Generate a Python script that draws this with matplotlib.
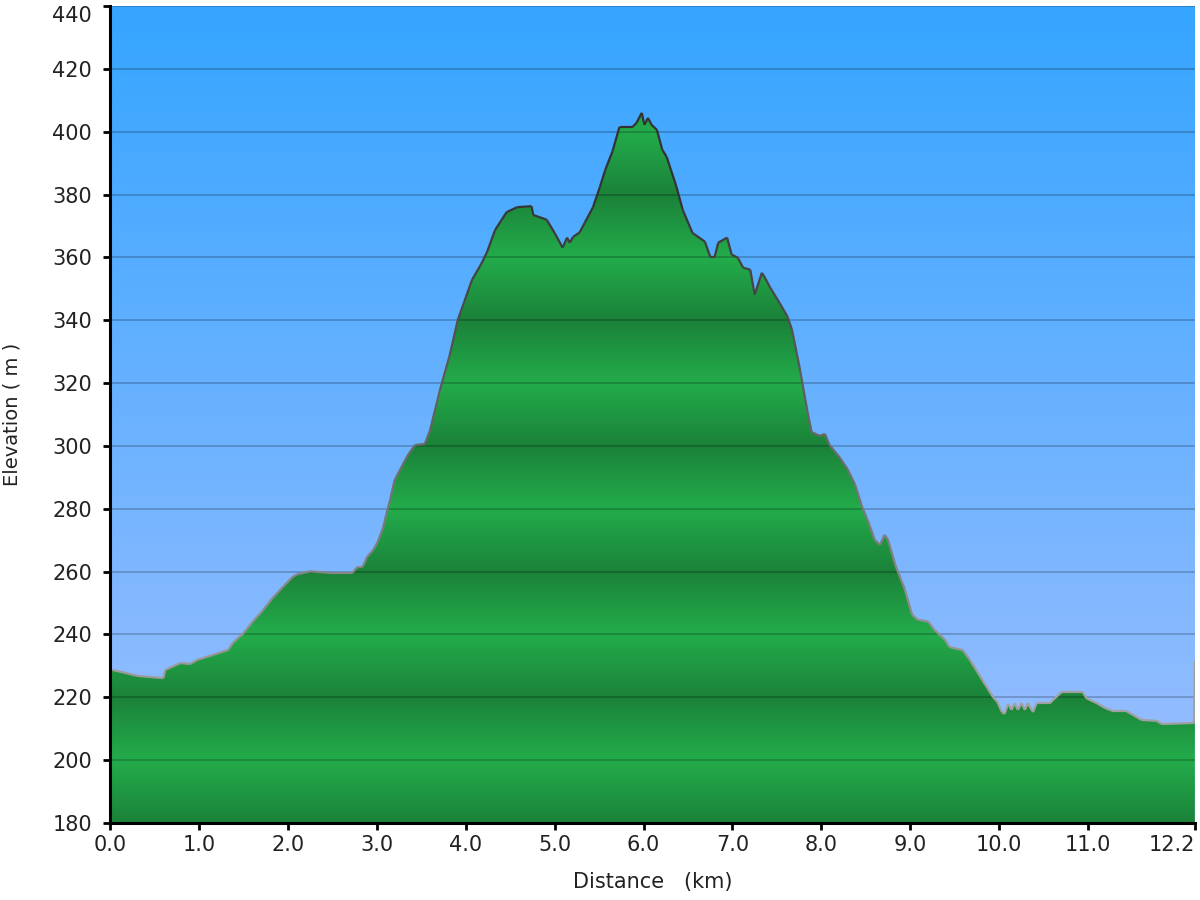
import numpy as np
import matplotlib.pyplot as plt
from matplotlib.collections import LineCollection
from matplotlib.colors import LinearSegmentedColormap

# elevation profile (distance in km, elevation in m)
distance_km = [
    0.00, 0.005, 0.03, 0.31, 0.60, 0.62, 0.79, 0.90, 0.98, 1.16, 1.33, 1.38,
    1.50, 1.60, 1.72, 1.82, 1.93, 2.05, 2.10, 2.25, 2.51, 2.72, 2.78, 2.84,
    2.89, 2.96, 3.01, 3.07, 3.11, 3.15, 3.20, 3.26, 3.35, 3.43, 3.54, 3.60,
    3.71, 3.82, 3.91, 3.99, 4.07, 4.18, 4.24, 4.33, 4.46, 4.58, 4.74, 4.76,
    4.91, 5.00, 5.09, 5.14, 5.17, 5.21, 5.28, 5.34, 5.43, 5.51, 5.57, 5.65,
    5.73, 5.88, 5.92, 5.98, 6.01, 6.05, 6.09, 6.15, 6.21, 6.26, 6.37, 6.44,
    6.55, 6.69, 6.75, 6.80, 6.84, 6.94, 6.99, 7.06, 7.12, 7.20, 7.25, 7.33,
    7.36, 7.42, 7.53, 7.62, 7.67, 7.76, 7.84, 7.89, 7.98, 8.04, 8.09, 8.21,
    8.30, 8.38, 8.45, 8.54, 8.60, 8.66, 8.71, 8.75, 8.83, 8.94, 9.02, 9.08,
    9.20, 9.27, 9.39, 9.44, 9.59, 9.67, 9.81, 9.93, 9.98, 10.03, 10.06, 10.10,
    10.14, 10.17, 10.21, 10.25, 10.29, 10.32, 10.38, 10.42, 10.57, 10.60, 10.70,
    10.94, 10.98, 11.10, 11.19, 11.28, 11.43, 11.60, 11.77, 11.83, 12.16, 12.19,
    12.20,
]
elevation_m = [
    223.0, 228.5, 228.7, 226.8, 226.1, 228.7, 230.9, 230.6, 231.9, 233.5, 235.1, 237.3,
    240.4, 243.9, 247.7, 251.3, 254.7, 258.2, 259.1, 260.1, 259.5, 259.5, 261.4, 261.5,
    264.6, 266.9, 269.4, 273.9, 278.6, 282.8, 289.1, 292.3, 297.1, 300.3, 300.6, 305.1,
    317.8, 328.9, 340.0, 346.4, 352.8, 358.2, 361.7, 368.7, 374.4, 376.0, 376.3, 373.5,
    372.0, 367.8, 363.1, 366.3, 364.7, 366.6, 367.9, 371.1, 375.9, 382.5, 387.9, 393.7,
    401.6, 401.6, 402.8, 406.0, 402.2, 404.4, 402.2, 400.6, 394.3, 392.0, 382.5, 375.2,
    367.8, 365.0, 360.2, 360.2, 364.7, 366.3, 360.9, 359.9, 356.7, 356.1, 348.1, 355.1,
    353.8, 350.6, 345.5, 341.1, 336.9, 324.2, 311.4, 304.4, 303.2, 303.8, 300.3, 296.2,
    292.3, 287.6, 281.2, 274.9, 270.1, 268.5, 271.7, 270.1, 262.2, 254.2, 246.3, 244.7,
    244.1, 241.5, 238.3, 236.0, 235.0, 231.9, 225.5, 220.1, 218.5, 215.3, 214.7, 217.9,
    216.0, 218.1, 216.0, 218.1, 216.0, 218.1, 215.3, 218.1, 218.1, 219.0, 221.6,
    221.6, 219.7, 218.1, 216.6, 215.6, 215.6, 212.8, 212.5, 211.5, 211.8, 211.8,
    231.5,
]

x_ticks = [0, 1, 2, 3, 4, 5, 6, 7, 8, 9, 10, 11, 12.2]
x_tick_labels = ["0.0", "1.0", "2.0", "3.0", "4.0", "5.0", "6.0", "7.0",
                 "8.0", "9.0", "10.0", "11.0", "12.2"]
y_ticks = list(range(180, 441, 20))

x = np.array(distance_km)
y = np.array(elevation_m)
xmin, xmax = 0, 12.2
ymin, ymax = 180, 440

fig = plt.figure(figsize=(12, 9), dpi=100)
ax = fig.add_axes([0.0917, 0.0856, 0.904, 0.9077])
ax.set_xlim(xmin, xmax)
ax.set_ylim(ymin, ymax)

# sky gradient background
sky = LinearSegmentedColormap.from_list("sky", ["#9fbfff", "#35a5ff"])
grad = np.linspace(0, 1, 256).reshape(-1, 1)
ax.imshow(grad, cmap=sky, origin="lower", aspect="auto",
          extent=[xmin, xmax, ymin, ymax], zorder=0)

# banded green fill, clipped to the profile
rows = np.linspace(ymin, ymax, 1200)
t = ((rows - 200) / 20) % 2
t = np.where(t > 1, 2 - t, t)
bright = np.array([35, 172, 75]) / 255
dark = np.array([27, 130, 57]) / 255
band = bright[None, :] * (1 - t[:, None]) + dark[None, :] * t[:, None]
band_img = np.repeat(band[:, None, :], 2, axis=1)
poly = ax.fill_between(x, y, ymin, color="none", lw=0)
img = ax.imshow(band_img, origin="lower", aspect="auto",
                extent=[xmin, xmax, ymin, ymax], zorder=1)
clip_path = poly.get_paths()[0]
img.set_clip_path(clip_path, transform=ax.transData)

# grid lines
for v in y_ticks[1:]:
    ax.axhline(v, color="black", alpha=0.22, lw=1.3, zorder=2)

# outline, darker at higher elevation
pts = np.column_stack([x, y]).reshape(-1, 1, 2)
segs = np.concatenate([pts[:-1], pts[1:]], axis=1)
mid = (y[:-1] + y[1:]) / 2
shade = np.clip((mid - 220) / 160, 0, 1)
cols = [(0.63 - 0.43 * s, 0.63 - 0.43 * s, 0.63 - 0.43 * s) for s in shade]
ax.add_collection(LineCollection(segs, colors=cols, linewidths=1.6, zorder=3))

for side in ["top", "right"]:
    ax.spines[side].set_visible(False)
for side in ["left", "bottom"]:
    ax.spines[side].set_linewidth(2.2)
    ax.spines[side].set_zorder(5)

ax.set_xticks(x_ticks)
ax.set_xticklabels(x_tick_labels)
ax.set_yticks(y_ticks)
ax.tick_params(direction="out", length=5, width=2, labelsize=15,
               labelcolor="#222222")
ax.tick_params(axis="y", pad=8)
ax.tick_params(axis="x", pad=4)
ax.get_xticklabels()[-1].set_horizontalalignment("right")
top_label = ax.get_yticklabels()[-1]
top_label.set_verticalalignment("top")
top_label.set_y(441.5)

ax.set_xlabel("Distance   (km)", fontsize=15, color="#222222", labelpad=12)
ax.set_ylabel("Elevation ( m )", fontsize=14, color="#222222", labelpad=22)

fig.savefig("out.png", dpi=100)
